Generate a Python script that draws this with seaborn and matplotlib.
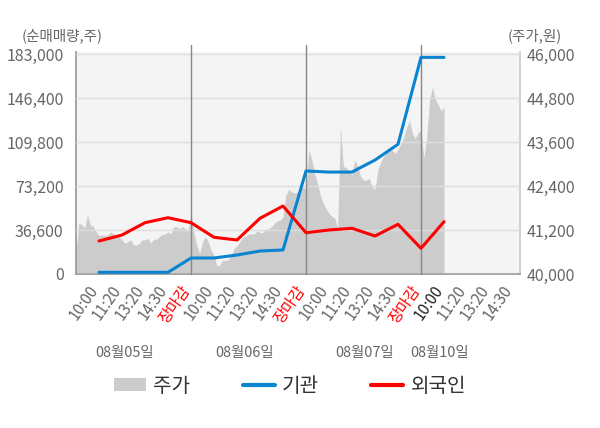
import numpy as np
import pandas as pd
import matplotlib
matplotlib.use("Agg")
import matplotlib.pyplot as plt
import seaborn as sns
from matplotlib.patches import Patch
from matplotlib.lines import Line2D
import matplotlib.transforms as mtransforms

# ---- data ----
dates = ['08월05일', '08월06일', '08월07일', '08월10일']
time_labels = ['10:00', '11:20', '13:20', '14:30', '장마감']

# intraday stock price (won), 40 samples per trading day
price_day1 = [40600, 41390, 41350, 41250, 41610, 41330, 41300, 41150, 41050, 41060,
              41060, 41060, 41150, 41100, 41060, 41020, 40930, 40840, 40880, 40930,
              40790, 40790, 40840, 40930, 40930, 40970, 40840, 40950, 40950, 41020,
              41090, 41090, 41150, 41100, 41290, 41290, 41240, 41290, 41240, 41200]
price_day2 = [41700, 41120, 40790, 40560, 40880, 41020, 40880, 40650, 40520, 40220,
              40245, 40380, 40360, 40400, 40520, 40700, 40770, 40880, 41000, 41030,
              41090, 41100, 41090, 41180, 41130, 41130, 41220, 41240, 41290, 41380,
              41450, 41470, 41560, 42150, 42310, 42240, 42210, 42240, 42270, 42380]
price_day3 = [42300, 43380, 43110, 42730, 42470, 42150, 41930, 41780, 41650, 41580,
              41520, 41250, 44020, 42930, 42900, 42790, 42700, 43110, 42930, 42650,
              42560, 42560, 42610, 42380, 42310, 42840, 43060, 43200, 43310, 43360,
              43380, 43290, 43400, 43550, 43730, 44000, 44180, 43840, 43700, 43850]
price_day4 = [43930, 43150, 43740, 44750, 45110, 44760, 44610, 44450, 44560]

# cumulative net buying (shares) at each time label
institution = [1400, 1400, 1400, 1400, 13300, 13300, 15800, 19100, 20000,
               85700, 84800, 84800, 94800, 107900, 180200, 180200]
foreign = [27450, 32440, 42670, 46830, 42670, 30530, 28280, 46330, 56560,
           34350, 36600, 38010, 31610, 41340, 21380, 43500]

vol_ticks = [0, 36600, 73200, 109800, 146400, 183000]
price_ticks = [40000, 41200, 42400, 43600, 44800, 46000]

# ---- build frames ----
price_days = [price_day1, price_day2, price_day3, price_day4]
px, py = [], []
for d, vals in enumerate(price_days):
    for i, v in enumerate(vals):
        px.append(d + i / 40)
        py.append(v)
price_df = pd.DataFrame({'x': px, 'price': py})

tick_pos = [d + (k + 1) / 5 for d in range(4) for k in range(5)][:19]
tick_txt = (time_labels * 4)[:19]
flow_df = pd.DataFrame({'x': tick_pos[:len(institution)],
                        'inst': institution, 'foreign': foreign})

# ---- style ----
sns.set_theme(style='white')
plt.rcParams['font.family'] = ['Noto Sans CJK KR', 'DejaVu Sans']

W, H = 600, 428
fig = plt.figure(figsize=(6, 4.28), dpi=100)
ax = fig.add_axes([76 / W, (H - 274) / H, 444 / W, 222 / H])
ax.set_facecolor('#f4f4f4')
xmax = 444 / 115
ax.set_xlim(0, xmax)
ax.set_ylim(40000, 40000 + 6000 * 222 / 220)

ax.fill_between(price_df['x'], 40000, price_df['price'], color='#cccccc', lw=0, zorder=1)
ax.grid(axis='y', color='#dddddd', lw=1)
ax.set_axisbelow(False)
for d in [1, 2, 3]:
    ax.axvline(d, ymin=0, ymax=1.031, color='#888888', lw=1, clip_on=False, zorder=3)

ax2 = ax.twinx()
ax2.set_ylim(0, 183000 * 222 / 220)
sns.lineplot(data=flow_df, x='x', y='inst', ax=ax2, color='#0a84d0', lw=2.2)
sns.lineplot(data=flow_df, x='x', y='foreign', ax=ax2, color='#ff0000', lw=2.2)
ax2.set_xlabel('')
ax2.set_ylabel('')
ax.set_ylabel('')

# price scale on the right, volume scale on the left
ax.yaxis.tick_right()
ax.set_yticks(price_ticks)
ax.set_yticklabels([f'{v:,}' for v in price_ticks])
ax2.yaxis.tick_left()
ax2.set_yticks(vol_ticks)
ax2.set_yticklabels([f'{v:,}' for v in vol_ticks])

for a in (ax, ax2):
    for s in a.spines.values():
        s.set_visible(False)
ax.spines['bottom'].set_visible(True)
ax.spines['bottom'].set_color('#999999')
ax.spines['left'].set_visible(True)
ax.spines['left'].set_color('#999999')
ax.spines['right'].set_visible(True)
ax.spines['right'].set_color('#cccccc')

ax.tick_params(axis='y', length=0, pad=5, labelsize=11.5, labelcolor='#666666')
ax2.tick_params(axis='y', length=0, pad=9, labelsize=11.5, labelcolor='#666666')

ax.set_xticks(tick_pos)
ax.set_xticklabels(tick_txt, rotation=55, ha='right', fontsize=11)
ax.set_xticks([0, 1, 2, 3, xmax], minor=True)
ax.tick_params(axis='x', which='major', length=0, pad=6)
ax.tick_params(axis='x', which='minor', length=4, color='#999999', width=1)
shift = mtransforms.ScaledTranslation(3 / 100, 0, fig.dpi_scale_trans)
for lab, txt in zip(ax.get_xticklabels(), tick_txt):
    lab.set_transform(lab.get_transform() + shift)
    lab.set_color('#ff0000' if txt == '장마감' else '#666666')
ax.get_xticklabels()[15].set_color('#222222')

trans = mtransforms.blended_transform_factory(ax.transData, ax.transAxes)
date_x = [0.426, 1.47, 2.513, 3.165]
for xd, lab in zip(date_x, dates):
    ax.text(xd, -(353 - 274) / 222, lab, transform=trans, ha='center', va='center',
            fontsize=10.4, color='#666666')

fig.text(22 / W, 1 - 36 / H, '(순매매량,주)', ha='left', va='center', fontsize=10.5, color='#666666')
fig.text(562 / W, 1 - 36 / H, '(주가,원)', ha='right', va='center', fontsize=10.5, color='#666666')

handles = [Patch(facecolor='#cccccc', edgecolor='none', label='주가'),
           Line2D([], [], color='#0a84d0', lw=3, label='기관'),
           Line2D([], [], color='#ff0000', lw=3, label='외국인')]
fig.legend(handles=handles, loc='center', bbox_to_anchor=(290 / W, 1 - 386 / H), ncol=3,
           frameon=False, fontsize=14.5, handlelength=1.6, handleheight=0.65,
           handletextpad=0.35, columnspacing=2.6, labelcolor='#333333')

fig.savefig('out.png', dpi=100)
